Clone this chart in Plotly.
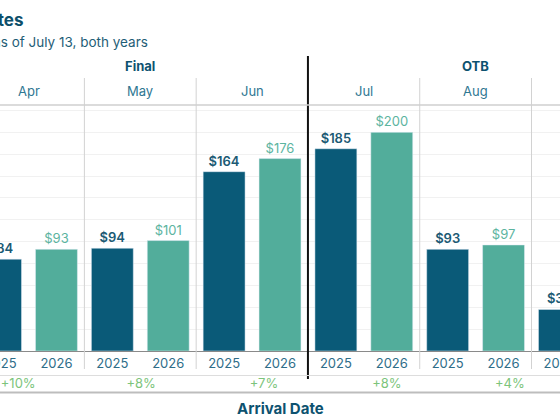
import plotly.graph_objects as go

# ---- data ----
months = ["Apr", "May", "Jun", "Jul", "Aug", "Sep"]
adr_2025 = [84, 94, 164, 185, 93, 38]
adr_2026 = [93, 101, 176, 200, 97, 41]
pct_change = ["+10%", "+8%", "+7%", "+8%", "+4%", "+8%"]
year_labels = ["2025", "2026"]
groups = {"Final": ["Apr", "May", "Jun"], "OTB": ["Jul", "Aug", "Sep"]}
title_text = "Average Daily Rates"
subtitle_text = "Arrivals on the books as of July 13, both years"
x_title = "Arrival Date"

# ---- styles ----
DARK = "#0a5a78"
TEAL = "#52ad9b"
DARK_TXT = "#1b5a74"
TEAL_TXT = "#5cb49f"
MONTH_TXT = "#2f7792"
GREEN = "#7cc47b"
FONT = "Inter"

W, H = 560, 420
n = len(months)
x25 = [2 * i for i in range(n)]
x26 = [2 * i + 1 for i in range(n)]

fig = go.Figure()
fig.add_trace(go.Bar(
    x=x25, y=adr_2025, width=0.75, marker_color=DARK, name=year_labels[0],
    texttemplate="$%{y}", textposition="outside", cliponaxis=False,
    textfont=dict(color=DARK_TXT, size=13, family=FONT, weight=600),
))
fig.add_trace(go.Bar(
    x=x26, y=adr_2026, width=0.75, marker_color=TEAL, name=year_labels[1],
    texttemplate="$%{y}", textposition="outside", cliponaxis=False,
    textfont=dict(color=TEAL_TXT, size=13, family=FONT),
))

# percent-change row (own axis)
fig.add_trace(go.Scatter(
    x=list(range(n)), y=[0.52] * n, mode="text", text=pct_change,
    textfont=dict(color=GREEN, size=13, family=FONT),
    xaxis="x2", yaxis="y2", cliponaxis=True, hoverinfo="skip",
))

ybase_px, ytop_px = 351, 105
fig.update_layout(
    width=W, height=H, margin=dict(l=0, r=0, t=0, b=0, autoexpand=False),
    plot_bgcolor="white", paper_bgcolor="white", showlegend=False,
    font=dict(family=FONT, color=MONTH_TXT),
    barmode="overlay",
    xaxis=dict(
        domain=[0, 1], range=[-0.01, 10.01], automargin=False,
        tickvals=x25 + x26,
        ticktext=[year_labels[0]] * n + [year_labels[1]] * n,
        tickfont=dict(size=13, color="#2e6d89", family=FONT),
        ticklabeloverflow="allow",
        ticks="", showgrid=False, zeroline=False,
        showline=True, linecolor="#8a8a8a", linewidth=1,
    ),
    yaxis=dict(
        domain=[(H - ybase_px) / H, (H - ytop_px) / H], range=[0, 225],
        automargin=False,
        dtick=20, showgrid=True, gridcolor="#f1f1f1", gridwidth=1,
        showticklabels=False, zeroline=False, ticks="",
    ),
    xaxis2=dict(domain=[0, 1], range=[-0.148, 4.408], visible=False,
                anchor="y2", automargin=False),
    yaxis2=dict(domain=[0, 0.16], range=[0, 1], visible=False, anchor="x2",
                automargin=False),
)

annotations = []
# title + subtitle (cropped at left edge as in reference)
annotations.append(dict(text=f"<b>{title_text}</b>", x=25 / W, y=(H - 20) / H,
                        xref="paper", yref="paper", xanchor="right", yanchor="middle",
                        showarrow=False, font=dict(size=17, color="#0d4f6b", family=FONT)))
annotations.append(dict(text=subtitle_text, x=150 / W, y=(H - 42) / H,
                        xref="paper", yref="paper", xanchor="right", yanchor="middle",
                        showarrow=False, font=dict(size=13.5, color="#1f5e77", family=FONT)))
# month headers
for i, m in enumerate(months):
    annotations.append(dict(text=m, x=2 * i + 0.5, y=(H - 91) / H, xref="x", yref="paper",
                            showarrow=False, yanchor="middle",
                            font=dict(size=13, color=MONTH_TXT, family=FONT)))
# group headers
for g, ms in groups.items():
    idx = [months.index(m) for m in ms]
    cx = sum(2 * i + 0.5 for i in idx) / len(idx)
    annotations.append(dict(text=f"<b>{g}</b>", x=cx, y=(H - 66) / H, xref="x", yref="paper",
                            showarrow=False, yanchor="middle",
                            font=dict(size=13, color="#0d5270", family=FONT)))
# x title
annotations.append(dict(text=f"<b>{x_title}</b>", x=0.5, y=(H - 408) / H, xref="paper",
                        yref="paper", showarrow=False, yanchor="middle",
                        font=dict(size=15, color="#0d5270", family=FONT)))
fig.update_layout(annotations=annotations)

shapes = []
# month separators
for i in range(n - 1):
    xb = 2 * i + 1.5
    if months[i + 1] == groups["OTB"][0]:
        shapes.append(dict(type="line", x0=xb, x1=xb, xref="x", yref="paper",
                           y0=(H - 379) / H, y1=(H - 56) / H,
                           line=dict(color="#111111", width=2)))
    else:
        shapes.append(dict(type="line", x0=xb, x1=xb, xref="x", yref="paper",
                           y0=(H - 369) / H, y1=(H - 78) / H,
                           line=dict(color="#d2d2d2", width=1)))
# horizontal rules
shapes.append(dict(type="line", x0=0, x1=1, xref="paper", yref="paper",
                   y0=(H - 105) / H, y1=(H - 105) / H, line=dict(color="#cfcfcf", width=1.5)))
shapes.append(dict(type="line", x0=0, x1=1, xref="paper", yref="paper",
                   y0=(H - 375.5) / H, y1=(H - 375.5) / H, line=dict(color="#dddddd", width=1)))
shapes.append(dict(type="line", x0=0, x1=1, xref="paper", yref="paper",
                   y0=(H - 392.5) / H, y1=(H - 392.5) / H, line=dict(color="#bdbdbd", width=2)))
fig.update_layout(shapes=shapes)

fig.write_html("out.html")
